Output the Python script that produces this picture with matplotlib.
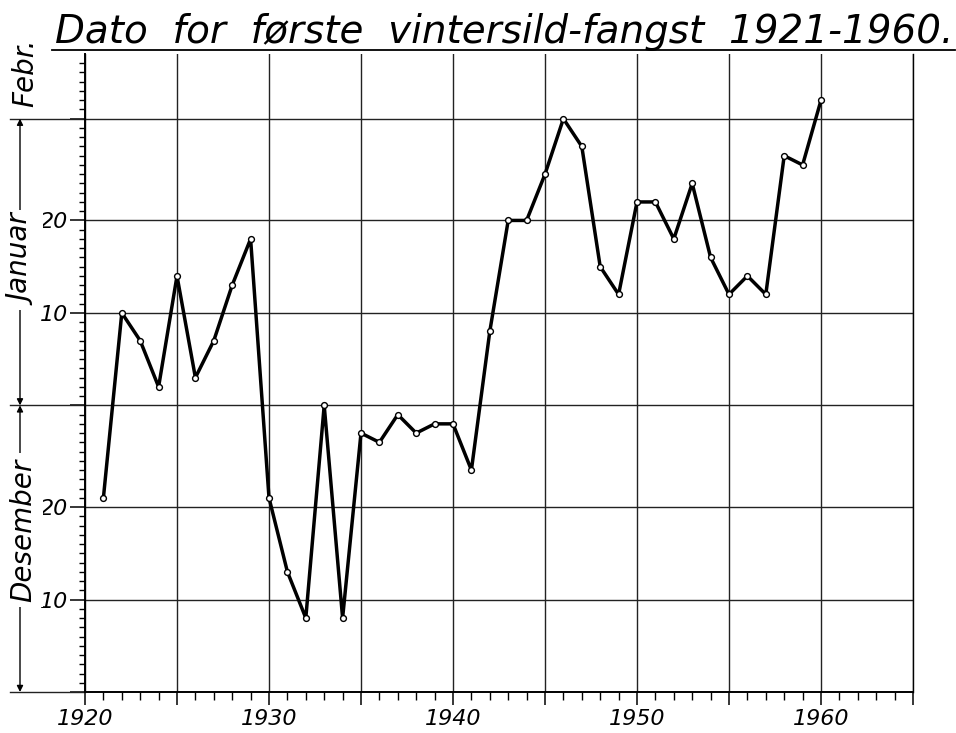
import matplotlib
matplotlib.use('Agg')
import matplotlib.pyplot as plt
from matplotlib.ticker import MultipleLocator, FixedLocator
import numpy as np

plt.rcParams['font.family'] = ['DejaVu Sans']

# years and day of first catch, counted from 30 Nov (Dec 31 = 31, Jan 10 = 41, Feb 1 = 63)
years = list(range(1921, 1961))
days = [21, 41, 38, 33, 45, 34, 38, 44, 49,
        21, 13, 8, 31, 8, 28, 27, 30, 28, 29, 29,
        24, 39, 51, 51, 56, 62, 59, 46, 43, 53,
        53, 49, 55, 47, 43, 45, 43, 58, 57, 64]

title = 'Dato  for  første  vintersild-fangst  1921-1960.'
year_labels = ['1920', '', '1930', '', '1940', '', '1950', '', '1960', '']
day_ticks = [0, 10, 20, 31, 41, 51, 62]
day_labels = ['', '10', '20', '', '10', '20', '']
month_names = ['Desember', 'Januar', 'Febr.']

fig = plt.figure(figsize=(9.56, 7.33), dpi=100)
ax = fig.add_axes([85/956, 1-692/733, 828/956, 638/733])

ax.plot(years, days, color='black', lw=2.5, marker='o', ms=4.2,
        mfc='white', mec='black', mew=1.0, zorder=5)

ax.set_xlim(1920, 1965)
ax.set_ylim(0, 69)

ax.xaxis.set_minor_locator(MultipleLocator(1))
ax.set_xticks(range(1920, 1966, 5))
ax.set_xticklabels(year_labels, fontsize=16, style='italic')
ax.yaxis.set_major_locator(FixedLocator(day_ticks))
ax.set_yticklabels(day_labels, fontsize=16, style='italic')
ax.yaxis.set_minor_locator(FixedLocator([d for d in range(0, 69) if d not in day_ticks]))

ax.tick_params(axis='x', which='major', length=9, width=1.1, pad=3, direction='out')
ax.tick_params(axis='x', which='minor', length=6, width=1.0, direction='out')
ax.tick_params(axis='y', which='major', length=11, width=1.1, pad=1, direction='out')
ax.tick_params(axis='y', which='minor', length=4.5, width=1.0, direction='out')

ax.grid(True, which='major', color='#222222', lw=1.0)
ax.spines['top'].set_visible(False)
for s in ['left', 'bottom']:
    ax.spines[s].set_linewidth(1.4)
ax.spines['right'].set_linewidth(1.0)

# month dimension lines on the left
tr = ax.get_yaxis_transform()
xf = (20 - 85) / 828
for b in [0, 31, 62]:
    ax.plot([(10 - 85) / 828, 0], [b, b], color='#222222', lw=1.0,
            transform=tr, clip_on=False)
for lo, hi, name, yc in [(0, 31, month_names[0], 17.5), (31, 62, month_names[1], 46.7)]:
    ax.annotate('', xy=(xf, lo), xytext=(xf, hi), xycoords=tr, textcoords=tr,
                arrowprops=dict(arrowstyle='<|-|>', color='black', lw=1.0,
                                mutation_scale=9, shrinkA=0, shrinkB=0))
    ax.text(xf + 0.004, yc, name, transform=tr, rotation=90, ha='center', va='center',
            fontsize=20, style='italic',
            bbox=dict(facecolor='white', edgecolor='none', pad=4))
ax.text(xf + 0.006, 67, month_names[2], transform=tr, rotation=90, ha='center',
        va='center', fontsize=20, style='italic')

fig.text(55/956, 1-43/733, title, ha='left', va='baseline',
         fontsize=28, style='italic')
ax.plot([52/956, 955/956], [1-50/733, 1-50/733], color='black', lw=1.3,
        transform=fig.transFigure, clip_on=False)

fig.savefig('out.png', dpi=100)
